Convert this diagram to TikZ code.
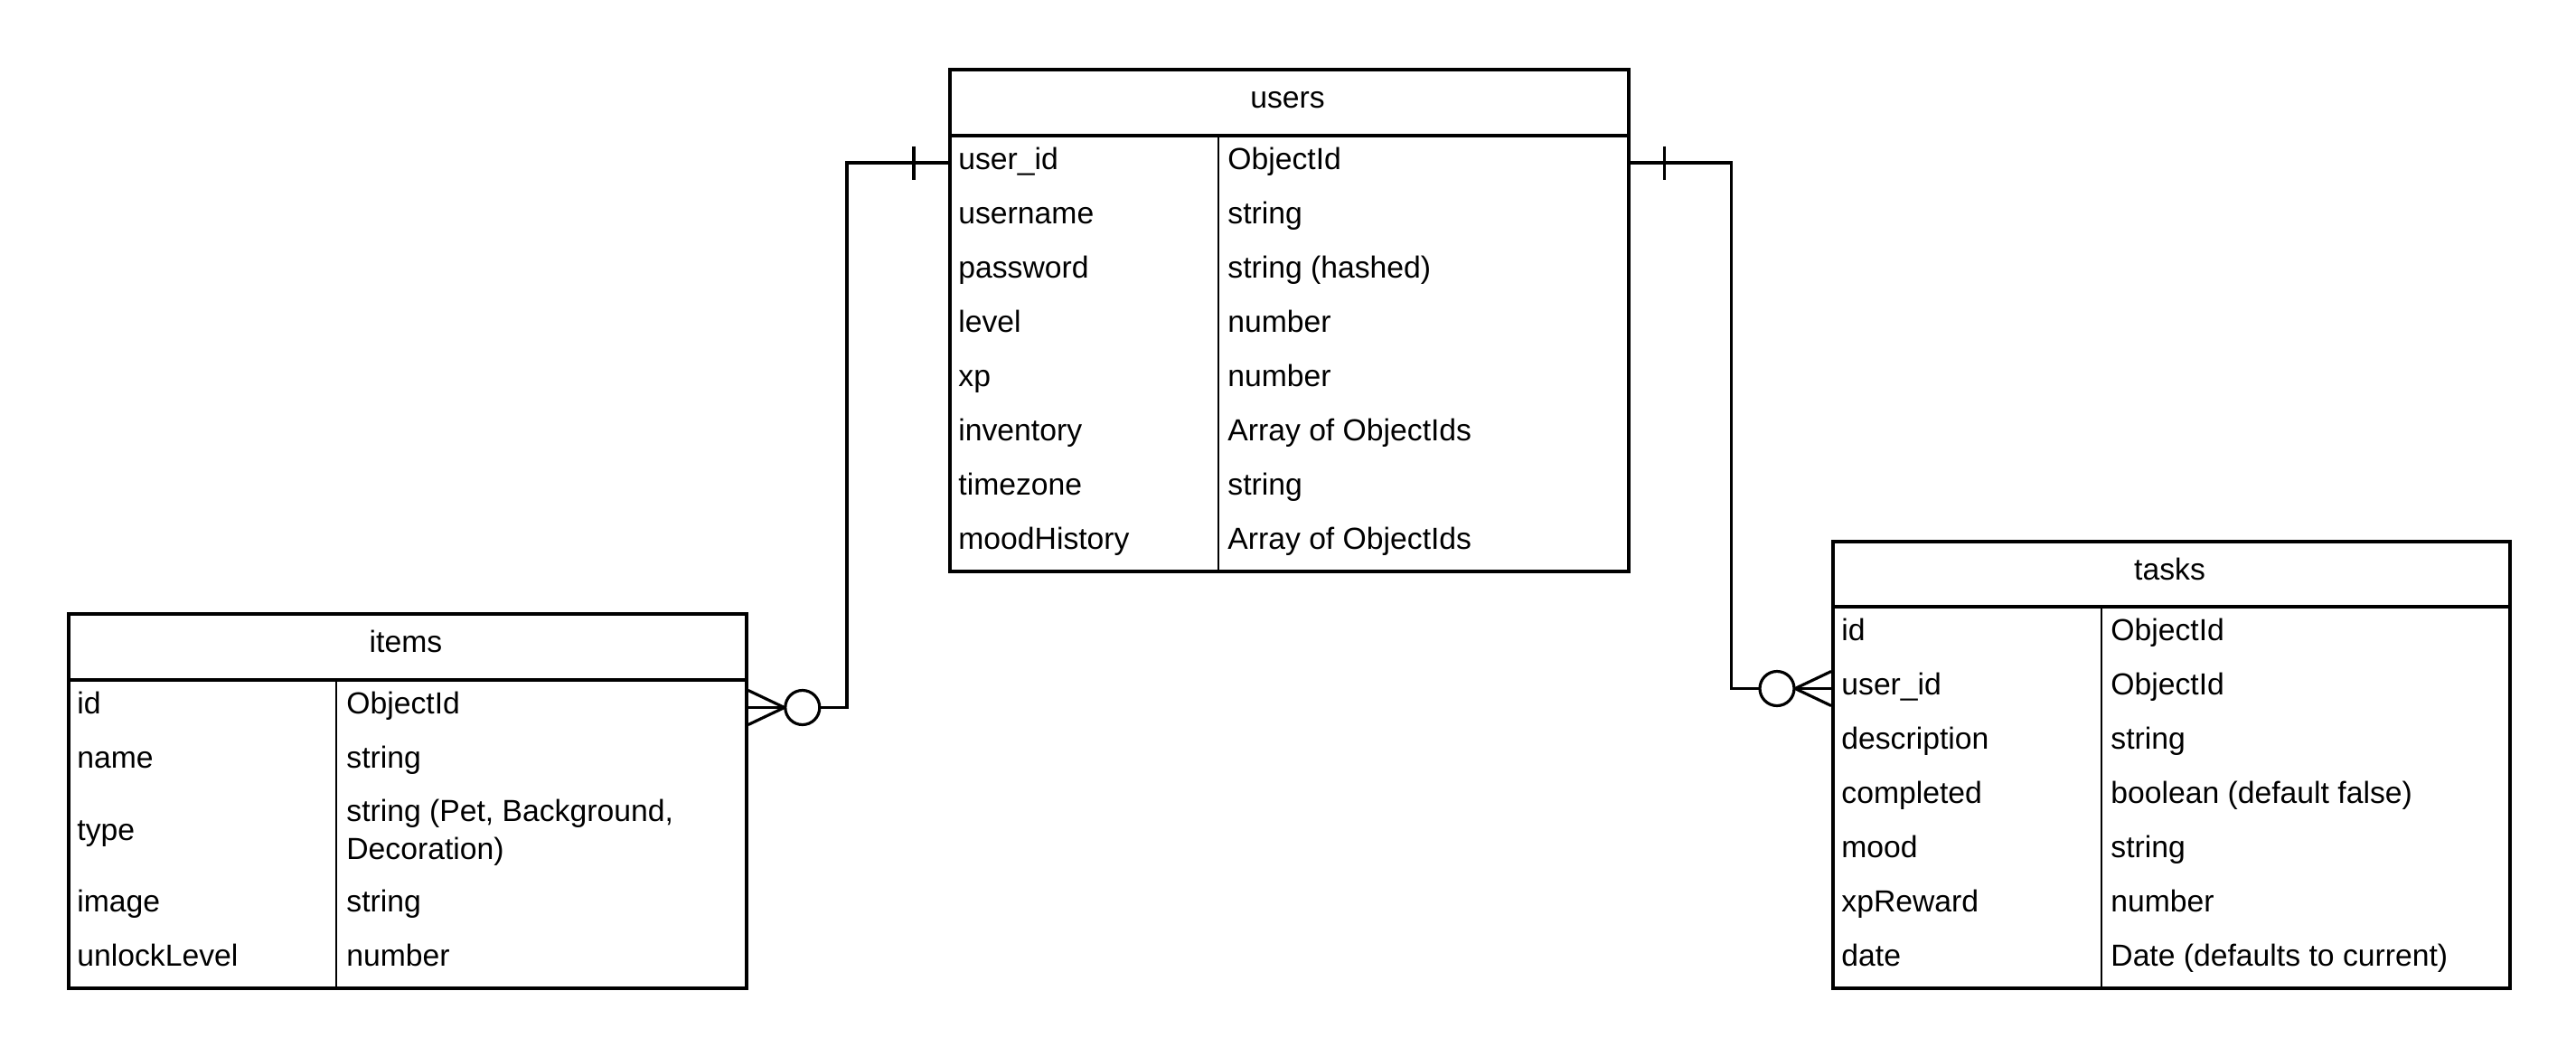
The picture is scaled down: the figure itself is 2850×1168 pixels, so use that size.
\documentclass[tikz,border=0pt]{standalone}
\usepackage{fontspec}
\setmainfont{Liberation Sans}
\begin{document}
\begin{tikzpicture}[x=0.5pt,y=-0.5pt,
  border/.style={line width=1.9pt},
  divline/.style={line width=1.3pt},
  conn/.style={line width=1.6pt},
  tbl/.style={draw, line width=1.9pt, rectangle, inner sep=0pt, anchor=north west},
  txt/.style={font=\fontsize{16.85}{21}\selectfont, anchor=base west, inner sep=0pt},
  ttl/.style={font=\fontsize{16.85}{21}\selectfont, anchor=base, inner sep=0pt}]
\useasboundingbox (0,0) rectangle (2850,1168);

% ---------------- users ----------------
\node[tbl, minimum width=375.5pt, minimum height=277.5pt] (users) at (1049,75) {};
\draw[border] (users.west |- 0,150) -- (users.east |- 0,150);
\draw[divline] (1348,150) -- (1348,630);
\node[ttl] (users-title) at (1424.5,119.5) {users};
\foreach \n/\v [count=\i from 0] in {user\_id/ObjectId, username/string, password/string (hashed), level/number, xp/number, inventory/Array of ObjectIds, timezone/string, moodHistory/Array of ObjectIds}{
  \node[txt] (uf\i) at (1060,187.5+60*\i) {\n};
  \node[txt] (uv\i) at (1358,187.5+60*\i) {\v};
}

% ---------------- items ----------------
\node[tbl, minimum width=375pt, minimum height=207pt] (items) at (74,677) {};
\draw[border] (items.west |- 0,752) -- (items.east |- 0,752);
\draw[divline] (372,752) -- (372,1091);
\node[ttl] (items-title) at (449,721.5) {items};
\node[txt] (if0) at (85,789.5) {id};
\node[txt] (iv0) at (383,789.5) {ObjectId};
\node[txt] (if1) at (85,849.5) {name};
\node[txt] (iv1) at (383,849.5) {string};
\node[txt] (if2) at (85,929) {type};
\node[txt] (iv2) at (383,908) {\begin{tabular}[t]{@{}l@{}}string (Pet, Background,\\Decoration)\end{tabular}};
\node[txt] (if3) at (85,1008.5) {image};
\node[txt] (iv3) at (383,1008.5) {string};
\node[txt] (if4) at (85,1068.5) {unlockLevel};
\node[txt] (iv4) at (383,1068.5) {number};

% ---------------- tasks ----------------
\node[tbl, minimum width=374.5pt, minimum height=247pt] (tasks) at (2026,597) {};
\draw[border] (tasks.west |- 0,671) -- (tasks.east |- 0,671);
\draw[divline] (2325,671) -- (2325,1091);
\foreach \n/\v [count=\i from 0] in {id/ObjectId, user\_id/ObjectId, description/string, completed/boolean (default false), mood/string, xpReward/number, date/Date (defaults to current)}{
  \node[txt] (tf\i) at (2037,708.5+60*\i) {\n};
  \node[txt] (tv\i) at (2335,708.5+60*\i) {\v};
}
\node[ttl] (tasks-title) at (2400.5,641.5) {tasks};

% ---------------- connectors ----------------
\coordinate (uL) at (users.west |- 0,180);
\coordinate (uR) at (users.east |- 0,180);
\coordinate (iR) at (items.east |- 0,782.5);
\coordinate (tL) at (tasks.west |- 0,761.5);

% users (one) -> items (zero or many)
\draw[conn] (uL) -- ++(-112,0) |- (iR);
\draw[conn] ([shift={(-38,-18.5)}]uL) -- ++(0,37);
\draw[conn] ([shift={(0,-19)}]iR) -- ([shift={(40,0)}]iR) -- ([shift={(0,19)}]iR);
\draw[conn, fill=white] ([shift={(60,0)}]iR) circle[radius=9.5pt];

% users (one) -> tasks (zero or many)
\draw[conn] (uR) -- ++(112,0) |- (tL);
\draw[conn] ([shift={(38,-18.5)}]uR) -- ++(0,37);
\draw[conn] ([shift={(0,-19)}]tL) -- ([shift={(-40,0)}]tL) -- ([shift={(0,19)}]tL);
\draw[conn, fill=white] ([shift={(-60,0)}]tL) circle[radius=9.5pt];
\end{tikzpicture}
\end{document}
